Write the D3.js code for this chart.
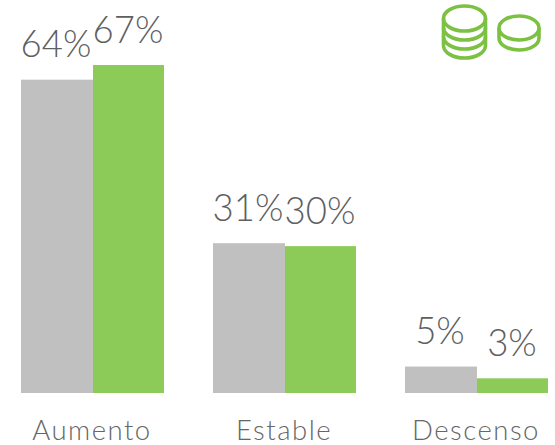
<!DOCTYPE html>
<html><head><meta charset="utf-8">
<script src="https://cdn.jsdelivr.net/npm/d3@7"></script>
<style>html,body{margin:0;padding:0;background:#fff}svg{display:block}text{font-family:Lato,"Open Sans",sans-serif;font-weight:300;fill:#5f5f5f}</style>
</head><body><svg id="c" width="555" height="445"></svg>
<script>
const categories=["Aumento","Estable","Descenso"];
const seriesNames=["gris","verde"];
const grisValues=[64,30.6,5.4];
const verdeValues=[67,30,3];
const grisLabels=["64%","31%","5%"];
const verdeLabels=["67%","30%","3%"];
const colors=["#c0c0c0","#8ccb57"];
const svg=d3.select("#c");
const x=d3.scalePoint().domain(categories).range([93,477]);
const y=d3.scaleLinear().domain([0,67]).range([393,65]);
const sub=d3.scaleBand().domain(seriesNames).range([-72,72]).paddingInner(0);
[[grisValues,grisLabels],[verdeValues,verdeLabels]].forEach(([vals,labels],s)=>{
  const name=seriesNames[s];
  svg.append("g").selectAll("rect").data(vals).join("rect")
    .attr("x",(d,i)=>x(categories[i])+sub(name))
    .attr("y",d=>y(d)).attr("width",sub.bandwidth()-s).attr("height",d=>y(0)-y(d))
    .attr("fill",colors[s]);
  svg.append("g").selectAll("text").data(vals).join("text")
    .attr("x",(d,i)=>x(categories[i])+sub(name)+sub.bandwidth()/2-1)
    .attr("y",d=>y(d)-22.5).attr("text-anchor","middle")
    .attr("font-size",36.5).text((d,i)=>labels[i]);
});
const axis=d3.axisBottom(x).tickSize(0).tickPadding(0);
const ax=svg.append("g").attr("transform","translate(-1.5,440)").call(axis);
ax.select(".domain").remove();
ax.attr("font-family",null).attr("font-size",null);
ax.selectAll("text").attr("font-size",27.5).attr("dy",0).attr("y",0)
  .attr("letter-spacing",1.5).attr("fill",null)
  .style("font-family",'Lato,"Open Sans",sans-serif').style("font-weight",300).style("fill","#666");
// coin icons
const ic=svg.append("g").attr("fill","none").attr("stroke","#7cc142").attr("stroke-width",3.6);
function stack(cx,cy,rx,ry,offs){
  ic.append("ellipse").attr("cx",cx).attr("cy",cy).attr("rx",rx).attr("ry",ry);
  let prev=0;
  offs.forEach(o=>{
    ic.append("path").attr("d",`M${cx-rx},${cy+prev}L${cx-rx},${cy+o}A${rx},${ry} 0 0 0 ${cx+rx},${cy+o}L${cx+rx},${cy+prev}`);
    prev=o;
  });
}
stack(464.5,18.5,21,12.5,[9,18,27]);
stack(519,28,20,12,[10]);
</script></body></html>
